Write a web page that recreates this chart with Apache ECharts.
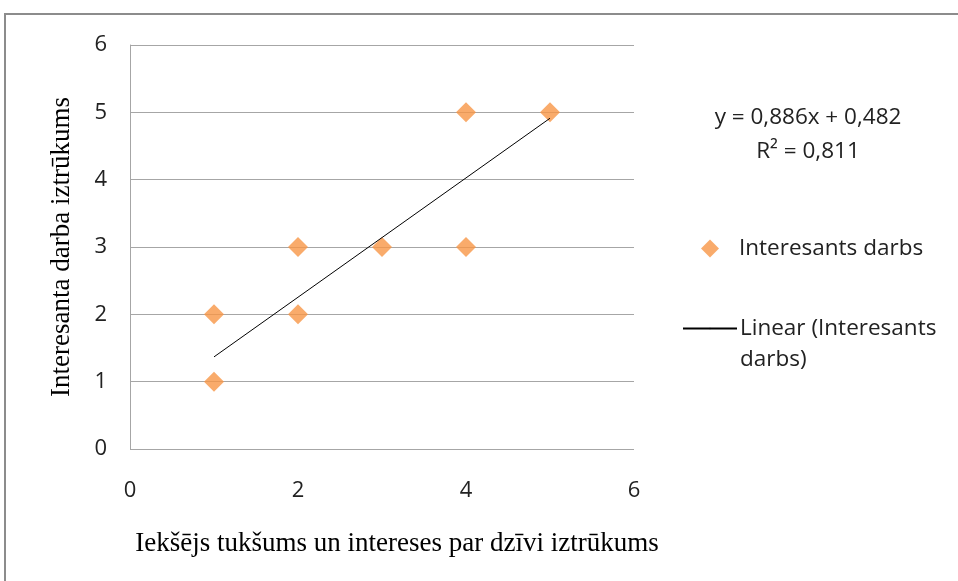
<!DOCTYPE html>
<html><head><meta charset="utf-8">
<script src="https://cdn.jsdelivr.net/npm/echarts@6/dist/echarts.min.js"></script>
<style>html,body{margin:0;padding:0;background:#fff}#c{width:958px;height:581px}</style>
</head><body><div id="c"></div>
<script>
const xValues = [1, 1, 2, 2, 3, 4, 4, 5];
const yValues = [2, 1, 3, 2, 3, 5, 3, 5];
const trendSlope = 0.886;
const trendIntercept = 0.482;
const trendRange = [1, 5];
const axisTicks = [0, 1, 2, 3, 4, 5, 6];
const seriesName = 'Interesants darbs';
const trendName = 'Linear (Interesants darbs)';
const equationText = 'y = 0,886x + 0,482';
const r2Text = 'R² = 0,811';

const points = xValues.map((x, i) => [x, yValues[i]]);
const trend = trendRange.map(x => [x, trendSlope * x + trendIntercept]);

const chart = echarts.init(document.getElementById('c'));
const sans = 'Open Sans';
const fs = 22;
const fsText = 22.5;
chart.setOption({
  animation: false,
  grid: {left: 130, right: 324, top: 45, bottom: 132},
  xAxis: {
    type: 'value', min: 0, max: 6, interval: 2,
    axisLine: {show: false}, axisTick: {show: false}, splitLine: {show: false},
    axisLabel: {color: '#222', fontSize: fs, fontFamily: sans, margin: 31},
    name: 'Iekšējs tukšums un intereses par dzīvi iztrūkums',
    nameLocation: 'middle', nameGap: 81,
    nameTextStyle: {fontFamily: 'Liberation Serif', fontSize: 27, color: '#000', padding: [0, 0, 0, 30]}
  },
  yAxis: {
    type: 'value', min: 0, max: 6, interval: 1,
    axisLine: {show: true, lineStyle: {color: '#A6A6A6', width: 1}}, axisTick: {show: false},
    splitLine: {show: true, lineStyle: {color: '#A6A6A6', width: 1}},
    axisLabel: {color: '#222', fontSize: fs, fontFamily: sans, margin: 23},
    name: 'Interesanta darba iztrūkums',
    nameLocation: 'middle', nameGap: 55,
    nameTextStyle: {fontFamily: 'Liberation Serif', fontSize: 27, color: '#000'}
  },
  legend: [
    {
      data: [seriesName], orient: 'vertical', left: 696, top: 232,
      itemWidth: 18, itemHeight: 18, itemGap: 0,
      textStyle: {fontFamily: sans, fontSize: fsText, color: '#222', padding: [0, 0, 0, 15]}
    },
    {
      data: [trendName], orient: 'vertical', left: 677, top: 277,
      itemWidth: 54, itemHeight: 2, itemGap: 0,
      formatter: () => ' \nLinear (Interesants\ndarbs)',
      textStyle: {fontFamily: sans, fontSize: fsText, color: '#222', lineHeight: 31, padding: [0, 0, 0, -2]}
    }
  ],
  series: [
    {
      name: seriesName, type: 'scatter', data: points,
      symbol: 'diamond', symbolSize: 20,
      itemStyle: {color: '#F79646'}
    },
    {
      name: trendName, type: 'line', data: trend,
      symbol: 'none', lineStyle: {color: '#000', width: 1},
      itemStyle: {color: '#000'}
    }
  ],
  graphic: [
    {type: 'rect', shape: {x: 5, y: 14, width: 1000, height: 700}, style: {fill: 'none', stroke: '#8C8C8C', lineWidth: 2}, silent: true},
    {type: 'text', style: {text: equationText, x: 808, y: 118, align: 'center', verticalAlign: 'middle', fontFamily: sans, fontSize: fsText, fill: '#222'}},
    {type: 'text', style: {text: r2Text, x: 808, y: 152, align: 'center', verticalAlign: 'middle', fontFamily: sans, fontSize: fsText, fill: '#222'}}
  ]
});
</script></body></html>
